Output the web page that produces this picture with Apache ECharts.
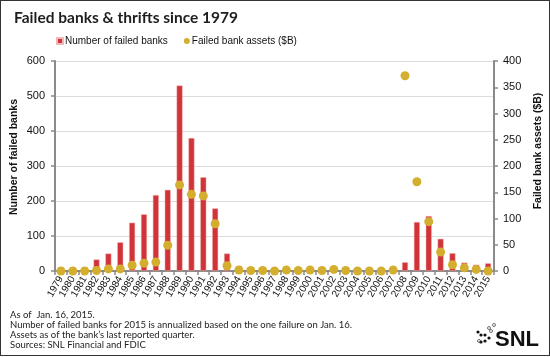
<!DOCTYPE html>
<html><head><meta charset="utf-8">
<script src="https://cdn.jsdelivr.net/npm/echarts@6/dist/echarts.min.js"></script>
<style>html,body{margin:0;padding:0;background:#fff}#c{width:548px;height:354px;border:1px solid #333}</style>
</head><body><div id="c"></div>
<script>
const years = ['1979','1980','1981','1982','1983','1984','1985','1986','1987','1988','1989','1990','1991','1992','1993','1994','1995','1996','1997','1998','1999','2000','2001','2002','2003','2004','2005','2006','2007','2008','2009','2010','2011','2012','2013','2014','2015'];
const failedBanks = [10,10,10,33,50,82,138,162,217,232,530,380,268,179,50,14,6,5,1,3,7,4,4,11,3,4,0,0,3,25,140,157,92,51,24,18,22];
const failedAssets = [0,0,0,1,4,4,11,15,17,49,164,146,143,90,10,2,1,1,0,2,1,2,1,3,1,0,0,0,2,372,170,94,36,12,6,3,0];
const leftTicks = [0,100,200,300,400,500,600];
const rightTicks = [0,50,100,150,200,250,300,350,400];
const titleText = 'Failed banks & thrifts since 1979';
const leftName = 'Number of failed banks';
const rightName = 'Failed bank assets ($B)';
const notes = ['As of  Jan. 16, 2015.','Number of failed banks for 2015 is annualized based on the one failure on Jan. 16.','Assets as of the bank\u2019s last reported quarter.','Sources: SNL Financial and FDIC'];

const chart = echarts.init(document.getElementById('c'));
const axisLine = {show:true,lineStyle:{color:'#8a8a8a',width:2}};
const tick = {show:true,length:4,lineStyle:{color:'#8a8a8a',width:1.5}};
const filled = [[477,331],[480,334],[484,334],[488,337],[484,340],[480,341]];
const hollow = [[488,327],[493,324],[490,330],[478,340]];
chart.setOption({
  animation:false,
  title:{text:titleText,left:8,top:4,textStyle:{fontFamily:'Lato',fontWeight:'bold',fontSize:15.5,color:'#1e1e1e'}},
  legend:{top:30,left:50,itemGap:16,itemWidth:6,itemHeight:6,textStyle:{fontFamily:'Liberation Sans',fontSize:10,color:'#111',padding:[0,0,0,-3]},
    data:[{name:'Number of failed banks',icon:'rect'},{name:'Failed bank assets ($B)',icon:'circle'}]},
  grid:{left:54,right:55,top:60,bottom:84},
  xAxis:{type:'category',data:years,axisLine:axisLine,axisTick:tick,
    axisLabel:{rotate:60,fontFamily:'Liberation Sans',fontSize:10,color:'#111',margin:6,interval:0}},
  yAxis:[
    {type:'value',min:0,max:600,interval:100,
     axisLine:axisLine,axisTick:tick,
     axisLabel:{fontFamily:'Liberation Sans',fontSize:11,color:'#111',margin:10},
     splitLine:{lineStyle:{color:'#dcdcdc',width:1}}},
    {type:'value',min:0,max:400,interval:50,
     axisLine:axisLine,axisTick:tick,
     axisLabel:{fontFamily:'Liberation Sans',fontSize:11,color:'#111',margin:9},
     splitLine:{show:false}}
  ],
  series:[
    {name:'Number of failed banks',type:'bar',data:failedBanks,barWidth:6,yAxisIndex:0,
     itemStyle:{color:'#d13438',borderColor:'#f0b8b8',borderWidth:0.5}},
    {name:'Failed bank assets ($B)',type:'scatter',data:failedAssets,yAxisIndex:1,symbolSize:9,
     itemStyle:{color:'#d4af2f',opacity:1}}
  ],
  graphic:[
    {type:'text',x:13,y:156,rotation:Math.PI/2,style:{text:leftName,font:'bold 10.5px "Liberation Sans"',fill:'#111',align:'center',verticalAlign:'middle'}},
    {type:'text',x:537,y:150,rotation:Math.PI/2,style:{text:rightName,font:'bold 10.5px "Liberation Sans"',fill:'#111',align:'center',verticalAlign:'middle'}},
    ...notes.map((t,i)=>({type:'text',x:9,y:314+i*10,style:{text:t,font:'9.5px Lato',fill:'#222',verticalAlign:'middle'}})),
    {type:'text',x:494,y:339,style:{text:'SNL',font:'bold 22px "Liberation Sans"',fill:'#111',verticalAlign:'middle'}},
    ...filled.map(p=>({type:'circle',shape:{cx:p[0],cy:p[1],r:1.6},style:{fill:'#111'}})),
    ...hollow.map(p=>({type:'circle',shape:{cx:p[0],cy:p[1],r:1.5},style:{fill:'none',stroke:'#333',lineWidth:0.7}}))
  ]
});
</script></body></html>
